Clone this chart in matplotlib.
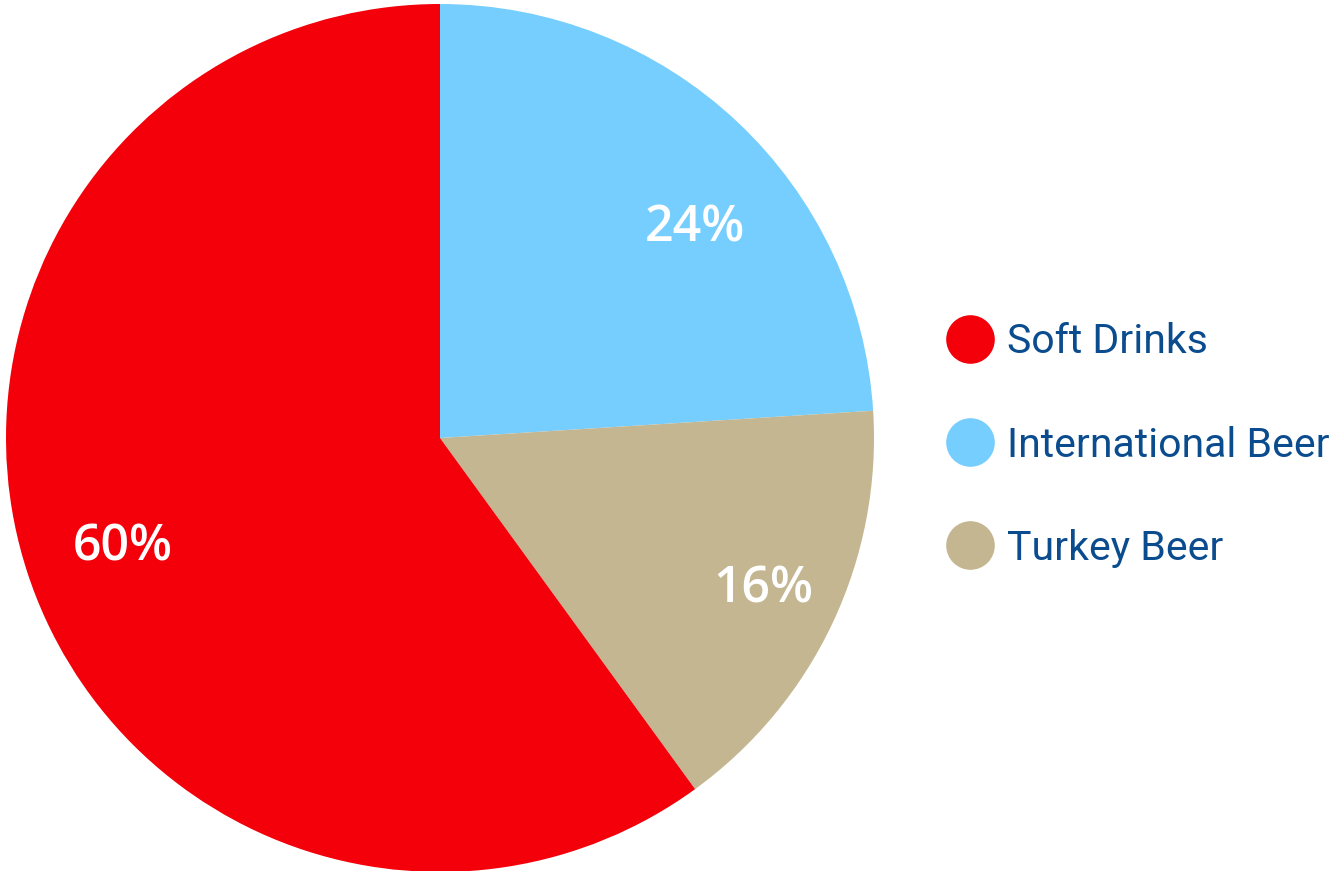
import matplotlib.pyplot as plt
from matplotlib.lines import Line2D

# wedge order runs clockwise from 12 o'clock
categories = ["International Beer", "Turkey Beer", "Soft Drinks"]
shares = [24, 16, 60]
colors = ["#76CEFE", "#C4B690", "#F3000A"]

legend_order = ["Soft Drinks", "International Beer", "Turkey Beer"]

# where the percentage labels sit, in pie units (radius = 1)
label_xy = [(0.588, 0.483), (0.744, -0.350), (-0.730, -0.253)]

W, H = 1339, 871
fig = plt.figure(figsize=(W / 100, H / 100), dpi=100)

# pie axes: centre (440, 438) px, radius 434 px
cx, cy, r = 440, 438, 434
ax = fig.add_axes([(cx - r) / W, (H - cy - r) / H, 2 * r / W, 2 * r / H])

wedges, texts, autotexts = ax.pie(
    shares, colors=colors, startangle=90, counterclock=False,
    autopct="%d%%",
    textprops=dict(color="white", fontsize=36, family="Open Sans", fontweight="semibold"),
)
ax.set_xlim(-1, 1)
ax.set_ylim(-1, 1)

for t, xy in zip(autotexts, label_xy):
    t.set_position(xy)

handles = [Line2D([], [], marker="o", linestyle="none", markersize=35,
                  markerfacecolor=colors[categories.index(c)], markeredgewidth=0)
           for c in legend_order]
fig.legend(handles, legend_order, loc="center left",
           bbox_to_anchor=(949.5 / W, 1 - 445 / H), frameon=False,
           prop=dict(family="Roboto", size=29.5),
           labelcolor="#0B4C8E", handlelength=1.0, handletextpad=0.4,
           labelspacing=1.57, borderpad=0, borderaxespad=0)

fig.savefig("out.png", dpi=100)
